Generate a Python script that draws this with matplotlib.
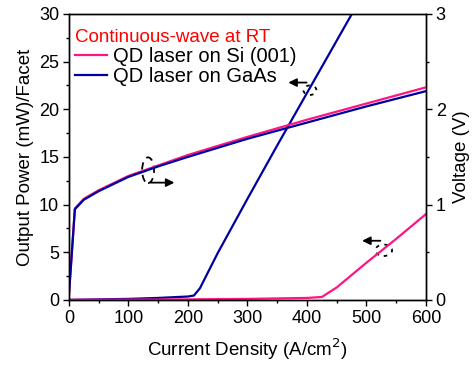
import matplotlib
matplotlib.use("Agg")
import matplotlib.pyplot as plt
from matplotlib.patches import Ellipse
from matplotlib.ticker import MultipleLocator

plt.rcParams['font.family'] = ['Liberation Sans', 'DejaVu Sans']
plt.rcParams['font.size'] = 13

# voltage vs current density (right axis)
v_j = [0, 5, 10, 25, 50, 100, 150, 200, 300, 400, 500, 600]
v_si = [0.05, 0.5, 0.96, 1.06, 1.15, 1.30, 1.41, 1.52, 1.71, 1.89, 2.06, 2.23]
v_gaas = [0.05, 0.5, 0.95, 1.05, 1.14, 1.29, 1.40, 1.50, 1.69, 1.86, 2.03, 2.19]

# output power vs current density (left axis)
p_si_j = [0, 100, 200, 300, 400, 425, 450, 500, 550, 600]
p_si = [0, 0.02, 0.05, 0.1, 0.2, 0.3, 1.3, 3.9, 6.4, 9.0]
p_gaas_j = [0, 50, 100, 150, 200, 210, 220, 250, 300, 350, 400, 450, 480]
p_gaas = [0, 0.05, 0.1, 0.2, 0.35, 0.45, 1.2, 4.9, 10.6, 16.2, 21.7, 27.2, 30.5]

pink = '#FF1485'
navy = '#0000A0'

fig, ax = plt.subplots(figsize=(4.72, 3.67), dpi=100)
fig.subplots_adjust(left=0.146, right=0.9025, bottom=0.183, top=0.962)
ax2 = ax.twinx()

ax.plot(p_gaas_j, p_gaas, color=navy, lw=1.6)
ax.plot(p_si_j, p_si, color=pink, lw=1.6)
ax2.plot(v_j, v_si, color=pink, lw=1.6, label='QD laser on Si (001)')
ax2.plot(v_j, v_gaas, color=navy, lw=1.6, label='QD laser on GaAs')

ax.set_xlim(0, 600)
ax.set_ylim(0, 30)
ax2.set_ylim(0, 3)
ax.xaxis.set_major_locator(MultipleLocator(100))
ax.xaxis.set_minor_locator(MultipleLocator(50))
ax.yaxis.set_major_locator(MultipleLocator(5))
ax.yaxis.set_minor_locator(MultipleLocator(2.5))
ax2.yaxis.set_major_locator(MultipleLocator(1))
ax2.yaxis.set_minor_locator(MultipleLocator(0.5))

for a in (ax, ax2):
    a.tick_params(which='major', direction='out', length=4, width=1, labelsize=13, pad=3)
    a.tick_params(which='minor', direction='out', length=2.5, width=1)
    for s in a.spines.values():
        s.set_linewidth(1)

ax.set_xlabel('Current Density (A/cm$^2$)', fontsize=13.5, labelpad=7)
ax.set_ylabel('Output Power (mW)/Facet', fontsize=13.5, labelpad=4)
ax2.set_ylabel('Voltage (V)', fontsize=13.5, labelpad=5)

# dashed ellipses with arrows marking which axis each curve pair uses
ax.add_patch(Ellipse((133, 13.6), 20, 2.7, fill=False, ls=(0, (4, 3)), lw=1.3, color='black'))
ax.annotate('', xy=(182, 12.3), xytext=(133, 12.3),
            arrowprops=dict(arrowstyle='-|>', color='black', lw=1.3, mutation_scale=12))
ax.add_patch(Ellipse((405, 22.0), 22, 1.0, fill=False, ls=(0, (2, 3)), lw=1.3, color='black'))
ax.annotate('', xy=(364, 22.8), xytext=(404, 22.8),
            arrowprops=dict(arrowstyle='-|>', color='black', lw=1.3, mutation_scale=12))
ax.add_patch(Ellipse((529, 5.2), 28, 1.2, fill=False, ls=(0, (2, 3)), lw=1.3, color='black'))
ax.annotate('', xy=(488, 6.2), xytext=(528, 6.2),
            arrowprops=dict(arrowstyle='-|>', color='black', lw=1.3, mutation_scale=12))

leg = ax2.legend(loc='upper left', bbox_to_anchor=(-0.005, 0.975), frameon=False,
                 title='Continuous-wave at RT', handlelength=1.6, handletextpad=0.3,
                 labelspacing=0.05, borderaxespad=0.2, borderpad=0.2,
                 fontsize=14.5, title_fontsize=13.5)
leg.get_title().set_color('red')
leg._legend_box.align = 'left'

fig.savefig('out.png', dpi=100)
